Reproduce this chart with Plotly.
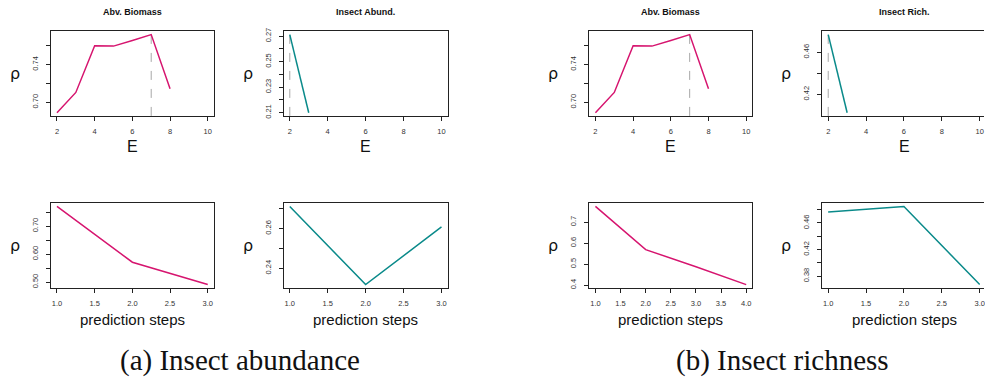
import plotly.graph_objects as go

# ---------------- data ----------------
E_biomass = [2, 3, 4, 5, 6, 7, 8]
rho_biomass = [0.6888, 0.7104, 0.7598, 0.7595, 0.7655, 0.7717, 0.7142]

E_abund = [2, 3]
rho_abund = [0.2712, 0.2099]

E_rich = [2, 3]
rho_rich = [0.4769, 0.4024]

steps_a = [1, 2, 3]
rho_steps_biomass_a = [0.7704, 0.5711, 0.4912]
rho_steps_abund = [0.2711, 0.2318, 0.2608]

steps_b = [1, 2, 3, 4]
rho_steps_biomass_b = [0.7742, 0.5691, 0.4876, 0.4030]
steps_rich = [1, 2, 3]
rho_steps_rich = [0.4766, 0.4849, 0.3673]

E_ticks = [2, 4, 6, 8, 10]
E_ticktext = ["2", "4", "6", "8", "10"]
steps3_ticks = [1.0, 1.5, 2.0, 2.5, 3.0]
steps3_text = ["1.0", "1.5", "2.0", "2.5", "3.0"]
steps4_ticks = [1.0, 1.5, 2.0, 2.5, 3.0, 3.5, 4.0]
steps4_text = ["1.0", "1.5", "2.0", "2.5", "3.0", "3.5", "4.0"]

y1_ticks = [0.70, 0.72, 0.74, 0.76]
y1_text = ["0.70", "", "0.74", ""]
y2_ticks = [0.21, 0.22, 0.23, 0.24, 0.25, 0.26, 0.27]
y2_text = ["0.21", "", "0.23", "", "0.25", "", "0.27"]
y4_ticks = [0.42, 0.44, 0.46]
y4_text = ["0.42", "", "0.46"]
y5_ticks = [0.50, 0.55, 0.60, 0.65, 0.70, 0.75]
y5_text = ["0.50", "", "0.60", "", "0.70", ""]
y6_ticks = [0.24, 0.25, 0.26, 0.27]
y6_text = ["0.24", "", "0.26", ""]
y7_ticks = [0.4, 0.5, 0.6, 0.7]
y7_text = ["0.4", "0.5", "0.6", "0.7"]
y8_ticks = [0.38, 0.40, 0.42, 0.44, 0.46, 0.48]
y8_text = ["0.38", "", "0.42", "", "0.46", ""]

titles_top = ["Abv. Biomass", "Insect Abund.", "Abv. Biomass", "Insect Rich."]
captions = ["(a) Insect abundance", "(b) Insect richness"]

PINK = "#D6156F"
TEAL = "#0A8A8A"
W, H = 985, 383


def rrange(vals):
    lo, hi = min(vals), max(vals)
    d = hi - lo
    return [lo - 0.04 * d, hi + 0.04 * d]


cols_px = [(51, 214), (284, 448), (590, 753), (823, 985)]
rows_px = [(28, 114), (203, 289)]

fig = go.Figure()

panels = [
    # (row, col, x, y, color, xrange, xticks, xtext, yticks, ytext, xlabel, optimal)
    (0, 0, E_biomass, rho_biomass, PINK, [1.68, 10.32], E_ticks, E_ticktext, y1_ticks, y1_text, "E", True),
    (0, 1, E_abund, rho_abund, TEAL, [1.68, 10.32], E_ticks, E_ticktext, y2_ticks, y2_text, "E", True),
    (0, 2, E_biomass, rho_biomass, PINK, [1.68, 10.32], E_ticks, E_ticktext, y1_ticks, y1_text, "E", True),
    (0, 3, E_rich, rho_rich, TEAL, [1.68, 10.23], E_ticks, E_ticktext, y4_ticks, y4_text, "E", True),
    (1, 0, steps_a, rho_steps_biomass_a, PINK, [0.92, 3.08], steps3_ticks, steps3_text, y5_ticks, y5_text, "prediction steps", False),
    (1, 1, steps_a, rho_steps_abund, TEAL, [0.92, 3.08], steps3_ticks, steps3_text, y6_ticks, y6_text, "prediction steps", False),
    (1, 2, steps_b, rho_steps_biomass_b, PINK, [0.88, 4.12], steps4_ticks, steps4_text, y7_ticks, y7_text, "prediction steps", False),
    (1, 3, steps_rich, rho_steps_rich, TEAL, [0.921, 3.057], steps3_ticks, steps3_text, y8_ticks, y8_text, "prediction steps", False),
]

tickfont = dict(family="Liberation Sans, Arial, sans-serif", size=7.5, color="#333333")
annotations = []

for i, (r, c, xs, ys, col, xr, xt, xtt, yt, ytt, xlab, opt) in enumerate(panels, start=1):
    x0p, x1p = cols_px[c]
    y0p, y1p = rows_px[r]
    xd = [x0p / W, min(x1p, W) / W]
    yd = [1 - y1p / H, 1 - y0p / H]
    yr = rrange(ys)
    sfx = "" if i == 1 else str(i)
    right_open = (c == 3)
    fig.layout["xaxis" + sfx] = dict(
        domain=xd, range=xr, anchor="y" + sfx,
        tickvals=xt, ticktext=xtt, ticks="outside", ticklen=4, tickwidth=1,
        tickcolor="#222", showline=True, linecolor="#222", linewidth=1,
        mirror=True, showgrid=False, zeroline=False, tickfont=tickfont,
        ticklabelstandoff=4, ticklabeloverflow="allow",
    )
    fig.layout["yaxis" + sfx] = dict(
        domain=yd, range=yr, anchor="x" + sfx,
        tickvals=yt, ticktext=ytt, ticks="outside", ticklen=4, tickwidth=1,
        tickcolor="#222", showline=True, linecolor="#222", linewidth=1,
        mirror=(not right_open), showgrid=False, zeroline=False, tickfont=tickfont,
        tickangle=-90, ticklabelstandoff=5, ticklabeloverflow="allow",
    )
    if opt:
        k = ys.index(max(ys))
        fig.add_trace(go.Scatter(
            x=[xs[k], xs[k]], y=[yr[0], ys[k]], mode="lines",
            line=dict(color="#A8A8A8", width=1, dash="dash"),
            xaxis="x" + sfx, yaxis="y" + sfx, showlegend=False, hoverinfo="skip"))
    fig.add_trace(go.Scatter(
        x=xs, y=ys, mode="lines", line=dict(color=col, width=1.5),
        xaxis="x" + sfx, yaxis="y" + sfx, showlegend=False))

    xc = (x0p + x1p) / 2 if c != 3 else (823 + 987) / 2
    if r == 0:
        annotations.append(dict(text=xlab, x=xc / W, y=1 - 145.5 / H, xref="paper", yref="paper",
                                showarrow=False, xanchor="center", yanchor="middle",
                                font=dict(family="Liberation Sans, Arial, sans-serif", size=16, color="#111")))
        annotations.append(dict(text="<b>" + titles_top[c] + "</b>", x=xc / W, y=1 - 8.5 / H,
                                xref="paper", yref="paper", showarrow=False,
                                xanchor="center", yanchor="middle",
                                font=dict(family="Liberation Sans, Arial, sans-serif", size=9, color="#111")))
    else:
        annotations.append(dict(text=xlab, x=xc / W, y=1 - 321 / H, xref="paper", yref="paper",
                                showarrow=False, xanchor="center", yanchor="middle",
                                font=dict(family="Liberation Sans, Arial, sans-serif", size=15, color="#111")))
    annotations.append(dict(text="ρ", x=(x0p - 36) / W, y=1 - ((y0p + y1p) / 2) / H,
                            xref="paper", yref="paper", showarrow=False,
                            xanchor="center", yanchor="middle",
                            font=dict(family="DejaVu Sans, sans-serif", size=16, color="#111")))

annotations.append(dict(text=captions[0], x=240 / W, y=1 - 363 / H, xref="paper", yref="paper",
                        showarrow=False, xanchor="center", yanchor="middle",
                        font=dict(family="Liberation Serif, serif", size=29, color="#111")))
annotations.append(dict(text=captions[1], x=783 / W, y=1 - 363 / H, xref="paper", yref="paper",
                        showarrow=False, xanchor="center", yanchor="middle",
                        font=dict(family="Liberation Serif, serif", size=29, color="#111")))

fig.update_layout(
    width=W, height=H, margin=dict(l=0, r=0, t=0, b=0),
    paper_bgcolor="white", plot_bgcolor="white",
    annotations=annotations, showlegend=False,
)

fig.write_html("out.html")
